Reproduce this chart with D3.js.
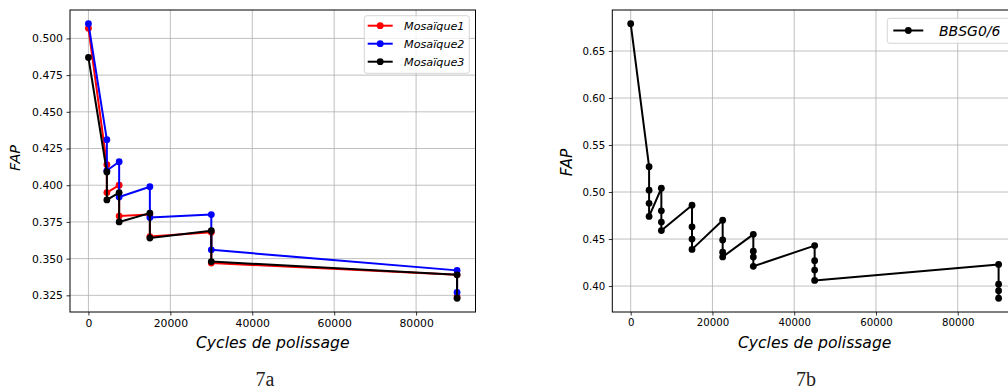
<!DOCTYPE html>
<html><head><meta charset="utf-8">
<script src="https://cdn.jsdelivr.net/npm/d3@7"></script>
<style>body{margin:0;background:#fff}svg{display:block;font-family:"DejaVu Sans",sans-serif}</style>
</head><body><svg id="c" width="1008" height="390"></svg>
<script>
// ---- data ----
const cyclesA = [0, 4500, 4500, 7500, 7500, 15000, 15000, 30000, 30000, 90000, 90000];
const mosaique1 = [0.507, 0.414, 0.395, 0.400, 0.379, 0.380, 0.365, 0.368, 0.347, 0.339, 0.324];
const mosaique2 = [0.510, 0.431, 0.410, 0.416, 0.392, 0.399, 0.378, 0.380, 0.356, 0.342, 0.327];
const mosaique3 = [0.487, 0.409, 0.390, 0.395, 0.375, 0.381, 0.364, 0.369, 0.348, 0.339, 0.323];
const seriesNamesA = ["Mosaïque1", "Mosaïque2", "Mosaïque3"];
const cyclesB = [0, 4500, 4500, 4500, 4500, 7500, 7500, 7500, 7500,
  15000, 15000, 15000, 15000, 22500, 22500, 22500, 22500,
  30000, 30000, 30000, 30000, 45000, 45000, 45000, 45000,
  90000, 90000, 90000, 90000];
const bbsg = [0.679, 0.527, 0.502, 0.488, 0.474, 0.504, 0.480, 0.468, 0.459,
  0.486, 0.463, 0.450, 0.439, 0.470, 0.449, 0.436, 0.431,
  0.455, 0.437, 0.431, 0.421, 0.443, 0.427, 0.417, 0.406,
  0.423, 0.402, 0.395, 0.387];
const seriesNameB = "BBSG0/6";
const xTicks = [0, 20000, 40000, 60000, 80000];
const yTicksA = [0.325, 0.350, 0.375, 0.400, 0.425, 0.450, 0.475, 0.500];
const yTicksB = [0.40, 0.45, 0.50, 0.55, 0.60, 0.65];
const xLabel = "Cycles de polissage";
const yLabel = "FAP";
const captions = ["7a", "7b"];

// ---- drawing ----
const svg = d3.select("#c");
function pad(ext) { const d = (ext[1] - ext[0]) * 0.05; return [ext[0] - d, ext[1] + d]; }

function panel(opt) {
  const g = svg.append("g");
  const x = d3.scaleLinear().domain(pad(d3.extent(opt.xs))).range([opt.x0, opt.x1]);
  const y = d3.scaleLinear().domain(pad(d3.extent(opt.series.flatMap(s => s.values)))).range([opt.y1, opt.y0]);
  // grid
  g.selectAll(".gx").data(xTicks).join("line")
    .attr("x1", d => x(d)).attr("x2", d => x(d)).attr("y1", opt.y0).attr("y2", opt.y1)
    .attr("stroke", "#b0b0b0").attr("stroke-width", 0.8);
  g.selectAll(".gy").data(opt.yTicks).join("line")
    .attr("x1", opt.x0).attr("x2", opt.x1).attr("y1", d => y(d)).attr("y2", d => y(d))
    .attr("stroke", "#b0b0b0").attr("stroke-width", 0.8);
  // axes
  const ax = g.append("g").attr("transform", `translate(0,${opt.y1})`)
    .call(d3.axisBottom(x).tickValues(xTicks).tickSize(3.5).tickPadding(3.5).tickFormat(d3.format("d")));
  const ay = g.append("g").attr("transform", `translate(${opt.x0},0)`)
    .call(d3.axisLeft(y).tickValues(opt.yTicks).tickSize(3.5).tickPadding(3.5).tickFormat(d3.format(opt.fmt)));
  [ax, ay].forEach(a => {
    a.select(".domain").remove();
    a.selectAll("text").attr("font-family", "DejaVu Sans").attr("fill", "#000");
    a.selectAll("line").attr("stroke", "#000").attr("stroke-width", 0.8);
  });
  ax.selectAll("text").attr("font-size", opt.tickFs);
  ay.selectAll("text").attr("font-size", opt.tickFs);
  // series
  const line = d3.line().x(d => x(d[0])).y(d => y(d[1]));
  opt.series.forEach(s => {
    const pts = opt.xs.map((c, i) => [c, s.values[i]]);
    g.append("path").datum(pts).attr("d", line).attr("fill", "none")
      .attr("stroke", s.color).attr("stroke-width", 2).attr("stroke-linejoin", "round");
    g.selectAll(null).data(pts).join("circle")
      .attr("cx", d => x(d[0])).attr("cy", d => y(d[1])).attr("r", 3.4).attr("fill", s.color);
  });
  // frame
  g.append("rect").attr("x", opt.x0).attr("y", opt.y0).attr("width", opt.x1 - opt.x0).attr("height", opt.y1 - opt.y0)
    .attr("fill", "none").attr("stroke", "#000").attr("stroke-width", 1);
  // labels
  g.append("text").attr("x", (opt.x0 + opt.x1c) / 2).attr("y", 347.5).attr("text-anchor", "middle")
    .attr("font-size", 15.6).attr("font-style", "italic").text(xLabel);
  g.append("text").attr("transform", `translate(${opt.ylx},${opt.yly}) rotate(-90)`).attr("text-anchor", "middle")
    .attr("font-size", opt.ylFs).attr("font-style", "italic").text(yLabel);
  g.append("text").attr("x", opt.capX).attr("y", 386).attr("text-anchor", "middle")
    .attr("font-family", "Liberation Serif").attr("font-size", 20).attr("fill", "#222").text(opt.caption);
  // legend
  const L = opt.legend;
  g.append("rect").attr("x", L.x).attr("y", L.y).attr("width", L.w).attr("height", L.h).attr("rx", 2.5)
    .attr("fill", "#fff").attr("fill-opacity", 0.8).attr("stroke", "#cccccc").attr("stroke-width", 0.8);
  opt.series.forEach((s, i) => {
    const cy = L.rowY + i * L.step;
    g.append("line").attr("x1", L.lx0).attr("x2", L.lx1).attr("y1", cy).attr("y2", cy)
      .attr("stroke", s.color).attr("stroke-width", 2);
    g.append("circle").attr("cx", (L.lx0 + L.lx1) / 2).attr("cy", cy).attr("r", 3.4).attr("fill", s.color);
    g.append("text").attr("x", L.tx).attr("y", cy + L.fs * 0.36).attr("font-size", L.fs)
      .attr("font-style", "italic").text(s.name);
  });
}

panel({
  xs: cyclesA, x0: 70, x1: 475.5, x1c: 475.5, y0: 10, y1: 312, yTicks: yTicksA, fmt: ".3f", tickFs: 10.8,
  series: [
    {name: seriesNamesA[0], values: mosaique1, color: "red"},
    {name: seriesNamesA[1], values: mosaique2, color: "blue"},
    {name: seriesNamesA[2], values: mosaique3, color: "black"}
  ],
  ylx: 19.5, yly: 158, ylFs: 14.5, capX: 265, caption: captions[0],
  legend: {x: 364.3, y: 15.7, w: 105, h: 57.6, rowY: 25.7, step: 18, lx0: 367.7, lx1: 392.7, tx: 404, fs: 11.2}
});
panel({
  xs: cyclesB, x0: 612.3, x1: 1017, x1c: 1017, y0: 10, y1: 312, yTicks: yTicksB, fmt: ".2f", tickFs: 10.2,
  series: [{name: seriesNameB, values: bbsg, color: "black"}],
  ylx: 572, yly: 162.5, ylFs: 15.3, capX: 806, caption: captions[1],
  legend: {x: 887.3, y: 18.3, w: 130, h: 25, rowY: 30.5, step: 0, lx0: 893.3, lx1: 923.3, tx: 939, fs: 14}
});
</script></body></html>
